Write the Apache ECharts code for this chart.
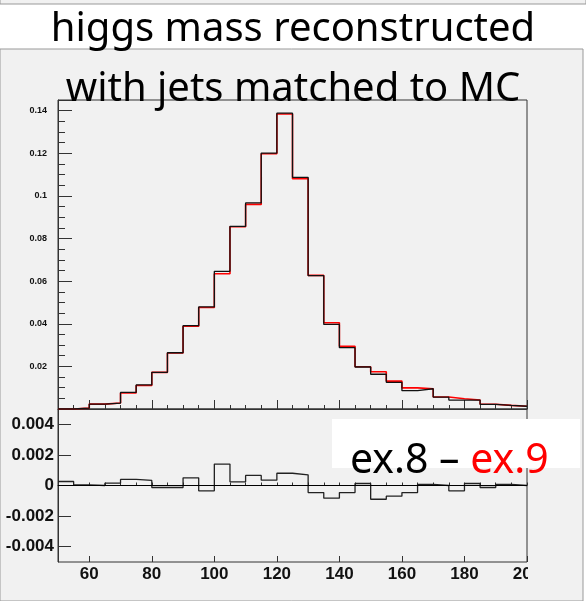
<!DOCTYPE html>
<html>
<head>
<meta charset="utf-8">
<script src="https://cdn.jsdelivr.net/npm/echarts@6/dist/echarts.min.js"></script>
<style>
    html, body { margin: 0; padding: 0; background: #fff; }
    #chart { width: 586px; height: 601px; }
</style>
</head>
<body>
<div id="chart"></div>
<script>
// lower bin edges (GeV), 5 GeV bins
var binLow = [50, 55, 60, 65, 70, 75, 80, 85, 90, 95, 100, 105, 110, 115, 120,
              125, 130, 135, 140, 145, 150, 155, 160, 165, 170, 175, 180, 185, 190, 195];
var binWidth = 5;
// ex.8 (black)
var ex8 = [0, 0.0004, 0.0023, 0.0028, 0.0078, 0.0113, 0.0172, 0.0264, 0.0391, 0.0479,
           0.0646, 0.0857, 0.0967, 0.1201, 0.1388, 0.1087, 0.0626, 0.0397, 0.0288, 0.0197,
           0.0163, 0.0125, 0.0086, 0.0095, 0.0056, 0.0042, 0.0042, 0.0022, 0.0017, 0.0013];
// ex.9 (red)
var ex9 = [0, 0.0004, 0.0023, 0.0028, 0.0075, 0.0110, 0.0172, 0.0263, 0.0388, 0.0476,
           0.0635, 0.0855, 0.0960, 0.1198, 0.1384, 0.1081, 0.0627, 0.0405, 0.0294, 0.0198,
           0.0175, 0.0131, 0.0099, 0.0095, 0.0056, 0.0048, 0.0042, 0.0022, 0.0017, 0.0013];
// ex.8 - ex.9
var diff = [0.00026, 0.00004, 0, 0.00015, 0.0004, 0.00033, -0.00013, -0.00013, 0.0005, -0.00035,
            0.0014, 0.00024, 0.00066, 0.00035, 0.0008, 0.0007, -0.00046, -0.00083, -0.00046, 0.00013,
            -0.0009, -0.0007, -0.00046, 0.00007, 0, -0.00035, 0.00013, -0.00013, 0.00007, 0];
var xLabels = [60, 80, 100, 120, 140, 160, 180, 200];
var diffTicks = [-0.004, -0.002, 0, 0.002, 0.004];

var padColor = '#f1f1f1';
var chart;

// histogram outline as a step line
function steps(vals) {
    var pts = binLow.map(function (x, i) { return [x, vals[i]]; });
    pts.push([binLow[binLow.length - 1] + binWidth, vals[vals.length - 1]]);
    return pts;
}

function xAxes(grid, minorLen, majorLen, labels) {
    return [
        {
            gridIndex: grid, type: 'value', position: 'bottom', min: 50, max: 200, interval: 5,
            axisLine: { show: true, lineStyle: { color: '#333' } },
            axisTick: { inside: true, length: minorLen, lineStyle: { color: '#333' } },
            axisLabel: { show: false },
            splitLine: { show: false }
        },
        {
            gridIndex: grid, type: 'value', position: 'bottom', min: 50, max: 200,
            axisLine: { show: false },
            axisTick: { inside: true, length: majorLen, customValues: xLabels, lineStyle: { color: '#333' } },
            axisLabel: {
                show: labels, customValues: xLabels, margin: 4,
                fontFamily: 'Liberation Sans', fontWeight: 'bold', fontSize: 17, color: '#111'
            },
            splitLine: { show: false }
        }
    ];
}

chart = echarts.init(document.getElementById('chart'));
var option = {
    backgroundColor: '#fff',
    animation: false,
    grid: [
        { left: 58, top: 100, width: 469, height: 309, show: true, borderColor: '#333', borderWidth: 1, backgroundColor: 'transparent' },
        { left: 58, top: 409, width: 469, height: 153, show: true, borderColor: '#333', borderWidth: 1, backgroundColor: 'transparent' }
    ],
    xAxis: xAxes(0, 4, 9, false).concat(xAxes(1, 3, 6, true)),
    yAxis: [
        {
            gridIndex: 0, type: 'value', position: 'left', min: 0, max: 0.145, interval: 0.02,
            axisLine: { show: true, lineStyle: { color: '#333' } },
            axisTick: { inside: true, length: 14, lineStyle: { color: '#333' } },
            minorTick: { show: true, splitNumber: 4, length: 7, lineStyle: { color: '#333' } },
            splitLine: { show: false },
            axisLabel: {
                margin: 11, fontFamily: 'Liberation Sans', fontWeight: 'bold', fontSize: 9, color: '#111',
                formatter: function (v) {
                    if (v <= 0 || v > 0.1401) return '';
                    return String(Math.round(v * 100) / 100);
                }
            }
        },
        {
            gridIndex: 1, type: 'value', position: 'left', min: -0.005, max: 0.005, interval: 0.001,
            axisLine: { show: true, lineStyle: { color: '#333' } },
            axisTick: { inside: true, length: 13, customValues: diffTicks, lineStyle: { color: '#333' } },
            splitLine: { show: false },
            axisLabel: {
                customValues: diffTicks, margin: 4,
                fontFamily: 'Liberation Sans', fontWeight: 'bold', fontSize: 17, color: '#111',
                formatter: function (v) {
                    if (Math.abs(v) < 1e-9) return '0';
                    return v.toFixed(3);
                }
            }
        }
    ],
    series: [
        {
            name: 'ex.9', type: 'line', step: 'end', xAxisIndex: 0, yAxisIndex: 0,
            data: steps(ex9), showSymbol: false, symbol: 'none', z: 3,
            lineStyle: { color: '#ff0000', width: 1.6 }
        },
        {
            name: 'ex.8', type: 'line', step: 'end', xAxisIndex: 0, yAxisIndex: 0,
            data: steps(ex8), showSymbol: false, symbol: 'none', z: 4,
            lineStyle: { color: '#111', width: 1.3 }
        },
        {
            name: 'ex.8 - ex.9', type: 'line', step: 'end', xAxisIndex: 2, yAxisIndex: 1,
            data: steps(diff), showSymbol: false, symbol: 'none', z: 4,
            lineStyle: { color: '#222', width: 1.3 },
            markLine: {
                silent: true, symbol: 'none', label: { show: false },
                lineStyle: { color: '#000', width: 1, type: 'solid' },
                data: [{ yAxis: 0 }]
            }
        }
    ],
    graphic: [
        // pad background
        { type: 'rect', z: -10, shape: { x: 0, y: 49, width: 583, height: 552 }, style: { fill: padColor, stroke: '#999', lineWidth: 1 } },
        { type: 'rect', z: -10, shape: { x: 0, y: -1, width: 586, height: 5 }, style: { fill: padColor, stroke: '#999', lineWidth: 1 } },
        // clip the last axis label like the pad edge does
        { type: 'rect', z: 50, shape: { x: 528, y: 564, width: 54, height: 26 }, style: { fill: padColor } },
        {
            type: 'text', z: 100, left: 'center', top: 10,
            style: { text: 'higgs mass reconstructed', font: '40px "Noto Sans"', fill: '#000' }
        },
        {
            type: 'text', z: 100, left: 'center', top: 70,
            style: { text: 'with jets matched to MC', font: '40px "Noto Sans"', fill: '#000' }
        },
        { type: 'rect', z: 90, shape: { x: 332, y: 419, width: 248, height: 49 }, style: { fill: '#fff' } },
        {
            type: 'text', z: 100, left: 350, top: 441,
            style: {
                text: '{k|ex.8 \u2013 }{r|ex.9}',
                rich: {
                    k: { font: '41px "Noto Sans"', fill: '#000' },
                    r: { font: '41px "Noto Sans"', fill: '#ff0000' }
                }
            }
        }
    ]
};
chart.setOption(option);
</script>
</body>
</html>
